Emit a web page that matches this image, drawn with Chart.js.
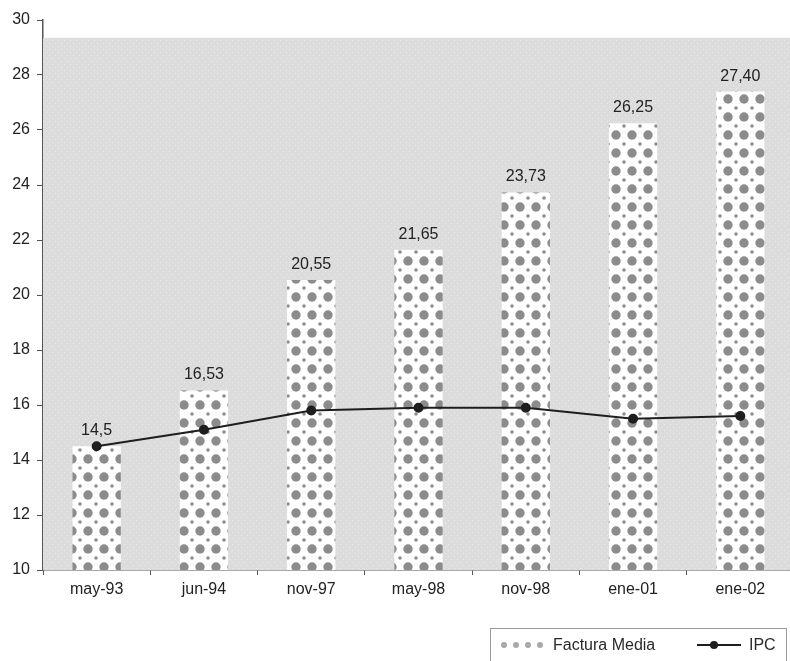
<!DOCTYPE html>
<html>
<head>
<meta charset="utf-8">
<script src="https://cdn.jsdelivr.net/npm/chart.js@4.4.1/dist/chart.umd.min.js"></script>
<style>
  html, body { margin: 0; padding: 0; background: #fff; overflow: hidden; }
  #wrap { position: relative; width: 790px; height: 661px; overflow: hidden; }
  #legend {
    position: absolute; left: 490px; top: 628px; width: 297px; height: 40px;
    border: 1px solid #9a9a9a; box-sizing: border-box;
    font: 16px "Liberation Sans", Arial, sans-serif; color: #2a2a2a;
  }
  #legend .item { position: absolute; top: 7px; display: flex; align-items: center; }
  #legend canvas { margin-right: 8px; }
</style>
</head>
<body>
<div id="wrap">
  <canvas id="chart" width="800" height="661"></canvas>
  <div id="legend">
    <div class="item" style="left:8px"><canvas id="swatch" width="46" height="14"></canvas><span>Factura Media</span></div>
    <div class="item" style="left:206px"><canvas id="lineSwatch" width="44" height="14"></canvas><span>IPC</span></div>
  </div>
</div>
<script>
// chart data
const categories = ['may-93', 'jun-94', 'nov-97', 'may-98', 'nov-98', 'ene-01', 'ene-02'];
const facturaMedia = [14.5, 16.53, 20.55, 21.65, 23.73, 26.25, 27.40];
const facturaLabels = ['14,5', '16,53', '20,55', '21,65', '23,73', '26,25', '27,40'];
const ipc = [14.5, 15.1, 15.8, 15.9, 15.9, 15.5, 15.6];
const yTicks = [10, 12, 14, 16, 18, 20, 22, 24, 26, 28, 30];

const FONT = '"Liberation Sans", Arial, sans-serif';

// dotted fill for the bars
function makeDotPattern() {
  const c = document.createElement('canvas');
  c.width = 16; c.height = 18;
  const g = c.getContext('2d');
  g.fillStyle = '#ffffff';
  g.fillRect(0, 0, 16, 18);
  g.fillStyle = '#8c8c8c';
  g.beginPath(); g.arc(8, 9, 4.7, 0, Math.PI * 2); g.fill();
  [[0, 0], [16, 0], [0, 18], [16, 18]].forEach(p => {
    g.beginPath(); g.arc(p[0], p[1], 1.8, 0, Math.PI * 2); g.fill();
  });
  return g.createPattern(c, 'repeat');
}

// faint speckled background of the plot area
function makeBgPattern() {
  const c = document.createElement('canvas');
  c.width = 6; c.height = 6;
  const g = c.getContext('2d');
  g.fillStyle = '#dcdcdc';
  g.fillRect(0, 0, 6, 6);
  g.fillStyle = '#ebebeb';
  g.fillRect(1, 1, 1, 1);
  g.fillRect(4, 4, 1, 1);
  return g.createPattern(c, 'repeat');
}

const dotPattern = makeDotPattern();
const bgPattern = makeBgPattern();

const plotBackground = {
  id: 'plotBackground',
  beforeDatasetsDraw(chart) {
    const { ctx, chartArea, scales } = chart;
    const top = scales.y.getPixelForValue(29.35);
    ctx.save();
    ctx.fillStyle = bgPattern;
    ctx.fillRect(chartArea.left, top, chartArea.right - chartArea.left, chartArea.bottom - top);
    ctx.restore();
  }
};

const barValueLabels = {
  id: 'barValueLabels',
  afterDatasetsDraw(chart) {
    const { ctx } = chart;
    const meta = chart.getDatasetMeta(1);
    ctx.save();
    ctx.font = '16px ' + FONT;
    ctx.fillStyle = '#222';
    ctx.textAlign = 'center';
    ctx.textBaseline = 'alphabetic';
    meta.data.forEach((bar, i) => {
      ctx.fillText(facturaLabels[i], bar.x, bar.y - 11);
    });
    ctx.restore();
  }
};

new Chart(document.getElementById('chart'), {
  data: {
    labels: categories,
    datasets: [
      {
        type: 'line',
        label: 'IPC',
        data: ipc,
        borderColor: '#1e1e1e',
        borderWidth: 2,
        pointBackgroundColor: '#1e1e1e',
        pointBorderColor: '#1e1e1e',
        pointRadius: 4,
        tension: 0,
        order: 0
      },
      {
        type: 'bar',
        label: 'Factura Media',
        data: facturaMedia,
        backgroundColor: dotPattern,
        borderWidth: 0,
        barPercentage: 0.45,
        categoryPercentage: 1,
        order: 1
      }
    ]
  },
  options: {
    responsive: false,
    animation: false,
    layout: { padding: { top: 20, right: 0, bottom: 61, left: 0 } },
    plugins: {
      legend: { display: false },
      tooltip: { enabled: false }
    },
    scales: {
      x: {
        offset: true,
        grid: {
          offset: true,
          drawOnChartArea: false,
          tickLength: 5,
          color: '#555'
        },
        border: { color: '#555', width: 1.5 },
        ticks: {
          color: '#222',
          font: { family: FONT, size: 16 },
          padding: 5,
          maxRotation: 0
        },
        afterFit(scale) { scale.height = 30; }
      },
      y: {
        min: 10,
        max: 30,
        afterBuildTicks(scale) { scale.ticks = yTicks.map(v => ({ value: v })); },
        grid: {
          drawOnChartArea: false,
          tickLength: 6,
          color: '#555'
        },
        border: { color: '#555', width: 1.5 },
        ticks: {
          color: '#222',
          font: { family: FONT, size: 16 },
          padding: 7
        },
        afterFit(scale) { scale.width = 43; }
      }
    }
  },
  plugins: [plotBackground, barValueLabels]
});

// legend swatches
(function () {
  const s = document.getElementById('swatch').getContext('2d');
  s.fillStyle = '#fff';
  s.fillRect(0, 0, 46, 14);
  s.fillStyle = '#a8a8a8';
  for (let i = 0; i < 4; i++) {
    s.beginPath(); s.arc(5 + i * 12, 7, 3, 0, Math.PI * 2); s.fill();
  }
  const l = document.getElementById('lineSwatch').getContext('2d');
  l.strokeStyle = '#1e1e1e';
  l.lineWidth = 2;
  l.beginPath(); l.moveTo(0, 7); l.lineTo(44, 7); l.stroke();
  l.fillStyle = '#1e1e1e';
  l.beginPath(); l.arc(17, 7, 4, 0, Math.PI * 2); l.fill();
})();
</script>
</body>
</html>
